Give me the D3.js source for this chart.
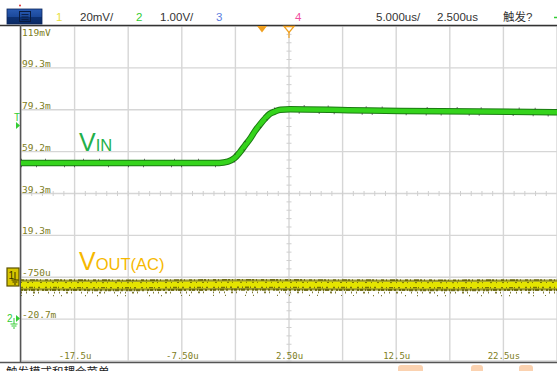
<!DOCTYPE html>
<html>
<head>
<meta charset="utf-8">
<script src="https://cdn.jsdelivr.net/npm/d3@7"></script>
<style>
  html, body { margin: 0; padding: 0; background: #fff; overflow: hidden; }
  svg { display: block; }
</style>
</head>
<body>
<svg id="scope" width="557" height="371"></svg>
<script>
// Channel 2 (VIN), volts vs. microseconds
const vinTime  = [-22.5, -10, -4.0, -3.2, -2.6, -2.1, -1.6, -1.1, -0.7, -0.2, 0.3, 0.7, 1.2, 1.7, 2.6, 8, 12.9, 20, 27.5];
const vinVolts = [3.73, 3.73, 3.73, 3.76, 3.84, 3.98, 4.15, 4.32, 4.48, 4.65, 4.80, 4.90, 4.96, 5.00, 5.01, 4.99, 4.97, 4.96, 4.94];

// Channel 1 (VOUT, AC coupled), millivolts vs. microseconds
const voutTime = [-22.5, -12.5, -2.5, 7.5, 17.5, 27.5];
const voutMv   = [-4.4, -4.5, -4.3, -4.4, -4.5, -4.4];

// Graticule labels
const xTickValues = [-17.5, -7.5, 2.5, 12.5, 22.5];
const xTickLabels = ["-17.5u", "-7.50u", "2.50u", "12.5u", "22.5us"];
const yTickValues = [119.3, 99.3, 79.3, 59.3, 39.3, 19.3, -0.7, -20.7];
const yTickLabels = ["119mV", "99.3m", "79.3m", "59.2m", "39.3m", "19.3m", "-750u", "-20.7m"];

// Status bar items
const statusItems = [
  { text: "1", x: 56, color: "#e8e040" },
  { text: "20mV/", x: 80, color: "#333" },
  { text: "2", x: 136, color: "#33cc33" },
  { text: "1.00V/", x: 160, color: "#333" },
  { text: "3", x: 216, color: "#5a7de0" },
  { text: "4", x: 295, color: "#f050a0" },
  { text: "5.000us/", x: 376, color: "#333" },
  { text: "2.500us", x: 437, color: "#333" },
  { text: "触发?", x: 503, color: "#333" }
];

const svg = d3.select("#scope");
const L = 21, R = 557, T = 26, B = 361;

const x = d3.scaleLinear().domain([-22.5, 27.5]).range([L, R]);
const y1 = d3.scaleLinear().domain([-40.7, 119.3]).range([B, T]);   // 20 mV/div
const y2 = d3.scaleLinear().domain([-1, 7]).range([B, T]);          // 1 V/div

const defs = svg.append("defs");
const btnGrad = defs.append("linearGradient").attr("id", "btn").attr("x1", 0).attr("y1", 0).attr("x2", 0).attr("y2", 1);
btnGrad.append("stop").attr("offset", "0%").attr("stop-color", "#2a5cb4");
btnGrad.append("stop").attr("offset", "50%").attr("stop-color", "#1c4a9c");
btnGrad.append("stop").attr("offset", "51%").attr("stop-color", "#0d3274");
btnGrad.append("stop").attr("offset", "100%").attr("stop-color", "#0a2a66");
defs.append("clipPath").attr("id", "plotClip")
  .append("rect").attr("x", L).attr("y", T).attr("width", R - L).attr("height", B - T);

// ---- graticule ----
const grid = svg.append("g");
const vDivs = d3.range(-22.5, 27.6, 5);
const hDivs = d3.range(-40.7, 119.4, 20);
grid.selectAll("line.v").data(vDivs).join("line")
  .attr("x1", d => x(d)).attr("x2", d => x(d)).attr("y1", T).attr("y2", B)
  .attr("stroke", "#d6d6d6").attr("stroke-width", 1.4);
grid.selectAll("line.h").data(hDivs).join("line")
  .attr("x1", L).attr("x2", R).attr("y1", d => y1(d)).attr("y2", d => y1(d))
  .attr("stroke", "#d6d6d6").attr("stroke-width", 1.4);

// minor ticks on the centre axes
const minorT = d3.range(-22.5, 27.5, 1);
const minorV = d3.range(-40.7, 119.3, 4);
grid.selectAll("line.mt").data(minorT).join("line")
  .attr("x1", d => x(d)).attr("x2", d => x(d))
  .attr("y1", y1(39.3) - 2.5).attr("y2", y1(39.3) + 2.5)
  .attr("stroke", "#cfcfcf").attr("stroke-width", 1);
grid.selectAll("line.mv").data(minorV).join("line")
  .attr("x1", x(2.5) - 2.5).attr("x2", x(2.5) + 2.5)
  .attr("y1", d => y1(d)).attr("y2", d => y1(d))
  .attr("stroke", "#cfcfcf").attr("stroke-width", 1);

// ---- frame ----
svg.append("line").attr("x1", 0).attr("x2", 557).attr("y1", 25.5).attr("y2", 25.5)
  .attr("stroke", "#333").attr("stroke-width", 1.5);
svg.append("line").attr("x1", 0).attr("x2", 557).attr("y1", 362.5).attr("y2", 362.5)
  .attr("stroke", "#555").attr("stroke-width", 1.5);
svg.append("line").attr("x1", 20.5).attr("x2", 20.5).attr("y1", 25).attr("y2", 363)
  .attr("stroke", "#555").attr("stroke-width", 1.5);

// ---- axis labels ----
const yAxis = d3.axisRight(y1).tickValues(yTickValues)
  .tickFormat((d, i) => yTickLabels[i]).tickSize(0).tickPadding(0);
const yg = svg.append("g").attr("transform", `translate(${L + 1},0)`).call(yAxis);
yg.select(".domain").remove();
yg.selectAll("text")
  .attr("font-family", "DejaVu Sans Mono").attr("font-size", 9.5)
  .attr("fill", "#7d7d22").attr("dy", null)
  .attr("y", (d, i) => i === 0 ? 9 : -1.5);

const xAxis = d3.axisBottom(x).tickValues(xTickValues)
  .tickFormat((d, i) => xTickLabels[i]).tickSize(0).tickPadding(0);
const xg = svg.append("g").attr("transform", `translate(0,${B - 2})`).call(xAxis);
xg.select(".domain").remove();
xg.selectAll("text")
  .attr("font-family", "DejaVu Sans Mono").attr("font-size", 9)
  .attr("fill", "#7d7d22").attr("dy", null).attr("y", 0);

// ---- traces ----
const plot = svg.append("g").attr("clip-path", "url(#plotClip)");

const voutLine = d3.line().x((d, i) => x(voutTime[i])).y(d => y1(d));
const vinLine = d3.line().curve(d3.curveMonotoneX).x((d, i) => x(vinTime[i])).y(d => y2(d));

// VOUT band with sample noise
plot.append("path").datum(voutMv).attr("d", voutLine)
  .attr("fill", "none").attr("stroke", "#8c8a10").attr("stroke-width", 11).attr("opacity", 0.85);
plot.append("path").datum(voutMv).attr("d", voutLine)
  .attr("fill", "none").attr("stroke", "#e4e400").attr("stroke-width", 6.5);
[[-5, "3 2 1 3 5 1 2 2 1 4", 1.6], [-2.5, "1 5 2 3 1 7 2 4", 1], [2.5, "2 3 1 2 4 1 1 3 2 5", 1.4],
 [5, "2 1 3 2 1 1 4 2 2 3", 2], [7.5, "1 4 1 6 2 3 1 9 1 5", 1.8], [10.5, "1 11 1 19 1 7 1 23", 1.2]]
  .forEach(([off, dash, w]) => {
    plot.append("path").datum(voutMv).attr("d", voutLine)
      .attr("transform", `translate(0,${off})`)
      .attr("fill", "none").attr("stroke", "#5e5a00").attr("stroke-width", w)
      .attr("stroke-dasharray", dash).attr("opacity", 0.8);
  });

// VIN trace
plot.append("path").datum(vinVolts).attr("d", vinLine)
  .attr("fill", "none").attr("stroke", "#1b7a12").attr("stroke-width", 6.5);
plot.append("path").datum(vinVolts).attr("d", vinLine)
  .attr("fill", "none").attr("stroke", "#35d41c").attr("stroke-width", 4.5);
[[-3.5, "1 23 1 37 1 15 1 44 1 29"], [3.5, "1 14 1 27 1 9 1 33 1 19"]]
  .forEach(([off, dash]) => {
    plot.append("path").datum(vinVolts).attr("d", vinLine)
      .attr("transform", `translate(0,${off})`)
      .attr("fill", "none").attr("stroke", "#333").attr("stroke-width", 1.6)
      .attr("stroke-dasharray", dash).attr("opacity", 0.7);
  });

// ---- annotations ----
const vinLabel = svg.append("text").attr("x", 79).attr("y", 151)
  .attr("font-family", "Liberation Sans, Arial, sans-serif").attr("fill", "#22b04a");
vinLabel.append("tspan").attr("font-size", 25).text("V");
vinLabel.append("tspan").attr("font-size", 16.5).text("IN");

const voutLabel = svg.append("text").attr("x", 79).attr("y", 270)
  .attr("font-family", "Liberation Sans, Arial, sans-serif").attr("fill", "#f6b800");
voutLabel.append("tspan").attr("font-size", 25).text("V");
voutLabel.append("tspan").attr("font-size", 16.5).text("OUT(AC)");

// ---- status bar ----
svg.append("circle").attr("cx", 20).attr("cy", 5.5).attr("r", 1).attr("fill", "#e03030");
svg.append("rect").attr("x", 7).attr("y", 9).attr("width", 35).attr("height", 15)
  .attr("fill", "url(#btn)").attr("stroke", "#0a2458").attr("stroke-width", 0.8);
svg.append("rect").attr("x", 19.5).attr("y", 11.5).attr("width", 11).attr("height", 10)
  .attr("fill", "none").attr("stroke", "#0a1c40").attr("stroke-width", 1);
[14.5, 17, 19.5].forEach(yy => svg.append("line")
  .attr("x1", 21.5).attr("x2", 28.5).attr("y1", yy).attr("y2", yy)
  .attr("stroke", "#0a1c40").attr("stroke-width", 0.9));

svg.selectAll("text.status").data(statusItems).join("text")
  .attr("x", d => d.x).attr("y", 21)
  .attr("font-family", "Liberation Sans, 'Noto Sans CJK SC', sans-serif")
  .attr("font-size", 11.5).attr("fill", d => d.color).text(d => d.text);
svg.append("line").attr("x1", 554).attr("x2", 557).attr("y1", 17.5).attr("y2", 17.5)
  .attr("stroke", "#33cc33").attr("stroke-width", 1.5);

// ---- trigger markers ----
svg.append("path").attr("d", "M257,26 L267,26 L262,32.5 Z").attr("fill", "#f0a020");
svg.append("path").attr("d", "M284,26.5 L294,26.5 L289,32.5 Z")
  .attr("fill", "#fff").attr("stroke", "#f0a020").attr("stroke-width", 1.3);
svg.append("line").attr("x1", x(2.5)).attr("x2", x(2.5)).attr("y1", 32).attr("y2", 38)
  .attr("stroke", "#f0a020").attr("stroke-width", 1.2);

// trigger level marker (ch2)
svg.append("text").attr("x", 14).attr("y", 121).attr("font-family", "Liberation Sans, sans-serif")
  .attr("font-size", 10).attr("fill", "#33cc33").text("T");
svg.append("path").attr("d", "M16,122 L20,125.5 L16,129 Z").attr("fill", "#33cc33");

// ch1 reference marker
svg.append("rect").attr("x", 7).attr("y", 268).attr("width", 12).attr("height", 18)
  .attr("fill", "#d8c600").attr("stroke", "#5c5200").attr("stroke-width", 1.2);
svg.append("text").attr("x", 8.5).attr("y", 279).attr("font-family", "Liberation Sans, sans-serif")
  .attr("font-size", 10).attr("fill", "#3a3200").text("1");
svg.append("path").attr("d", "M15,272 L15,280 M11.5,280 L18.5,280 M12.5,282 L17.5,282 M14,284 L16,284")
  .attr("stroke", "#3a3200").attr("stroke-width", 1).attr("fill", "none");

// ch2 reference marker
svg.append("text").attr("x", 7).attr("y", 322).attr("font-family", "Liberation Sans, sans-serif")
  .attr("font-size", 10).attr("fill", "#33cc33").text("2");
svg.append("path").attr("d", "M16,315 L20,318.5 L16,322 Z").attr("fill", "#33cc33");
svg.append("path").attr("d", "M14,318 L14,324 M10.5,324 L17.5,324 M11.5,326 L16.5,326 M13,328 L15,328")
  .attr("stroke", "#33cc33").attr("stroke-width", 1).attr("fill", "none");

// ---- menu caption below the screen (runs off the bottom edge) ----
svg.append("text").attr("x", 6).attr("y", 376)
  .attr("font-family", "'Noto Sans CJK SC', sans-serif").attr("font-size", 11.5)
  .attr("fill", "#222").text("触发模式和耦合菜单");
[[398, 25], [471, 12], [519, 14]].forEach(([bx, bw]) => svg.append("rect")
  .attr("x", bx).attr("y", 365).attr("width", bw).attr("height", 10).attr("rx", 3)
  .attr("fill", "#fbd2b0"));
</script>
</body>
</html>
